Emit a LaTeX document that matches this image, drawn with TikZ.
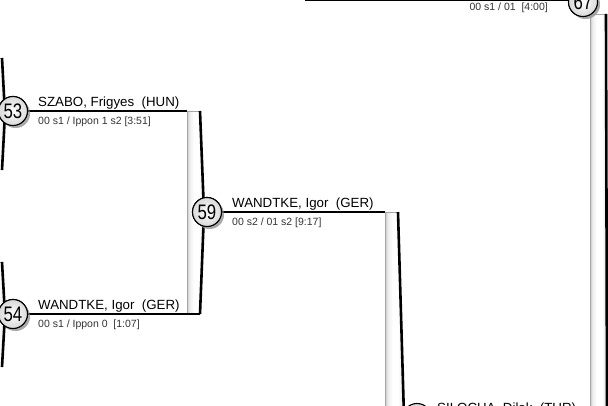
\documentclass[tikz,border=0pt]{standalone}
\usepackage{fontspec}
\setmainfont{Liberation Sans}
\newfontfamily\numfont[FakeStretch=0.8]{Liberation Sans}
\usetikzlibrary{shadows}
\pgfdeclarehorizontalshading{barshade}{100bp}{color(0bp)=(gray!45); color(25bp)=(gray!45); color(32bp)=(gray!15); color(45bp)=(white); color(60bp)=(white); color(75bp)=(gray!25); color(100bp)=(gray!25)}
\tikzset{
 matchno/.style={circle, draw=black, line width=1.1pt, minimum size=29pt, inner sep=0pt,
   inner color=white, outer color=gray!30, font=\numfont\fontsize{21}{21}\selectfont,
   drop shadow={shadow xshift=2.5pt, shadow yshift=-2.5pt, fill=gray!80, opacity=0.6}},
 wire/.style={line width=1.6pt, black},
 pname/.style={anchor=base west, inner sep=0pt, font=\fontsize{13.3}{14}\selectfont},
 pres/.style={anchor=base west, inner sep=0pt, font=\fontsize{10.5}{11}\selectfont, text=black!80},
 barfill/.style={shading=barshade},
 baredge/.style={draw=gray!70, line width=0.6pt},
 barblack/.style={line width=2.6pt, black},
}
% x0, x1, top, bottom, bulge
\newcommand\brbar[5]{%
  \shade[barfill] (#1,#3) -- (#2,#3) -- ({#2+#5},{(#3+#4)/2}) -- (#2,#4) -- (#1,#4) -- cycle;
  \draw[baredge] (#1,#4) -- (#1,#3) -- (#2,#3);
  \draw[barblack] (#2,#3) -- ({#2+#5},{(#3+#4)/2}) -- (#2,#4);
}
\begin{document}
\begin{tikzpicture}[x=1pt,y=-1pt]
\clip (0,0) rectangle (608,406);
\fill[white] (0,0) rectangle (608,406);
% bars
\brbar{-14}{2}{58}{170}{3}
\brbar{-14}{2}{262}{367}{3}
\brbar{187}{200}{111}{314}{4}
\brbar{385}{398}{212}{622}{6}
\brbar{590}{606}{14}{800}{1}
% bar anchor coordinates
\coordinate (b1tl) at (187,111);
\coordinate (b1br) at (200,314);
\coordinate (b2tl) at (385,212);
\coordinate (b3l) at (590,417);
\coordinate (ttop) at (305,0.4);
% match circles
\node[matchno] (m53) at (13,111) {53};
\node[matchno] (m54) at (13,314) {54};
\node[matchno] (m59) at (207,212) {59};
\node[matchno] (m67) at (583,2) {67};
\node[matchno] (mbot) at (417,418) {};
% connectors
\draw[wire] (m53.east) -- (b1tl);
\draw[wire] (m54.east) -- (b1br);
\draw[wire] (m59.east) -- (b2tl);
\draw[wire] (mbot.east) -- (b3l);
\draw[wire] (ttop) -- (ttop -| m67.west);
% redraw circles over connectors
\node[matchno] at (m53) {53};
\node[matchno] at (m54) {54};
\node[matchno] at (m59) {59};
\node[matchno] at (m67) {67};
% texts
\node[pname] (n53) at (38,106.5) {SZABO, Frigyes\ \ (HUN)};
\node[pres] (r53) at (38,125) {00 s1 / Ippon 1 s2 [3:51]};
\node[pname] (n54) at (38,309.5) {WANDTKE, Igor\ \ (GER)};
\node[pres] (r54) at (38,327) {00 s1 / Ippon 0\ \ [1:07]};
\node[pname] (n59) at (232,207.5) {WANDTKE, Igor\ \ (GER)};
\node[pres] (r59) at (232,226) {00 s2 / 01 s2 [9:17]};
\node[pres, anchor=base east] (r67) at (548,10.5) {00 s1 / 01\ \ [4:00]};
\node[pname] (nbot) at (437,412) {SILOCHA, Dilek\ \ (TUR)};
\end{tikzpicture}
\end{document}
